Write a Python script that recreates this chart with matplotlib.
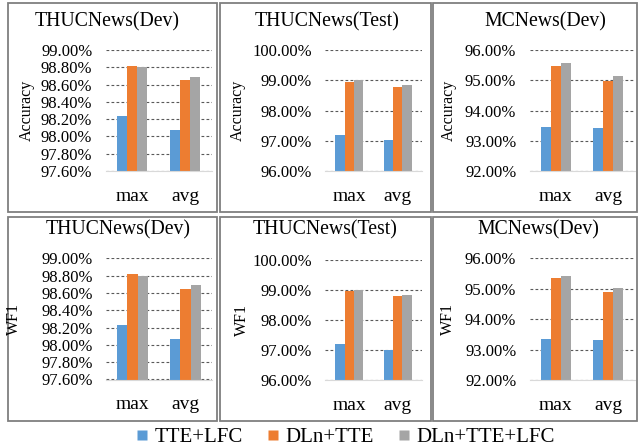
import matplotlib
matplotlib.use("Agg")
import matplotlib.pyplot as plt
import numpy as np
from matplotlib.lines import Line2D
from matplotlib.patches import Rectangle
from matplotlib.ticker import PercentFormatter, MultipleLocator

plt.rcParams['font.family'] = ['Liberation Serif', 'DejaVu Serif']

# ---------------------------------------------------------------------------
# data

groups = ['max', 'avg']
series = ['TTE+LFC', 'DLn+TTE', 'DLn+TTE+LFC']
colors = ['#5B9BD5', '#ED7D31', '#A5A5A5']

acc_thuc_dev = [[98.24, 98.07], [98.82, 98.65], [98.80, 98.69]]
acc_thuc_test = [[97.20, 97.01], [98.93, 98.77], [99.00, 98.84]]
acc_mc_dev = [[93.44, 93.43], [95.46, 94.97], [95.56, 95.13]]
wf1_thuc_dev = [[98.23, 98.07], [98.82, 98.65], [98.80, 98.69]]
wf1_thuc_test = [[97.19, 97.00], [98.97, 98.80], [99.00, 98.84]]
wf1_mc_dev = [[93.35, 93.32], [95.34, 94.90], [95.43, 95.03]]

titles = ['THUCNews(Dev)', 'THUCNews(Test)', 'MCNews(Dev)']
ylabels = ['Accuracy', 'WF1']
# y range and tick step per dataset column
yranges = [(97.6, 99.0, 0.2), (96.0, 100.0, 1.0), (92.0, 96.0, 1.0)]

W, H = 638, 448
fig = plt.figure(figsize=(W / 100, H / 100), dpi=100)


def fbox(x0, x1, y0, y1):
    # pixel box (top-origin) -> figure fraction rect
    return [x0 / W, 1 - y1 / H, (x1 - x0) / W, (y1 - y0) / H]


panel_boxes = [
    [(8, 217, 3, 212), (220, 431, 3, 212), (433, 637, 3, 212)],
    [(8, 217, 217, 421), (220, 431, 217, 421), (433, 637, 217, 421)],
]
axes_boxes = [
    [(105.5, 211.5, 50, 171), (325, 422, 50, 171), (529.5, 634.5, 50, 171)],
    [(106, 212, 258.3, 379.5), (325, 422, 260, 380), (529.5, 634.5, 258.3, 380)],
]
title_pos = [
    [(107.5, 22), (327.5, 22), (545, 22)],
    [(118, 230), (325, 230), (538, 230)],
]
ylabel_x = [[27, 238, 449], [14, 242, 448]]

data = [[acc_thuc_dev, acc_thuc_test, acc_mc_dev],
        [wf1_thuc_dev, wf1_thuc_test, wf1_mc_dev]]

x = np.arange(len(groups))
bw = 0.19

for r in range(2):
    for c in range(3):
        # panel frame
        x0, x1, y0, y1 = panel_boxes[r][c]
        fig.patches.append(Rectangle((x0 / W, 1 - y1 / H), (x1 - x0) / W, (y1 - y0) / H,
                                     transform=fig.transFigure, fill=False,
                                     edgecolor='#7F7F7F', linewidth=1.3))

        ax = fig.add_axes(fbox(*axes_boxes[r][c]))
        vals = data[r][c]
        lo, hi, step = yranges[c]
        for i, s in enumerate(series):
            ax.bar(x + (i - 1) * bw, vals[i], bw, color=colors[i],
                   edgecolor='none', zorder=3)

        ax.set_xlim(-0.5, 1.5)
        ax.set_ylim(lo, hi)
        ax.yaxis.set_major_locator(MultipleLocator(step))
        ax.yaxis.set_major_formatter(PercentFormatter(xmax=100, decimals=2))
        ax.set_xticks(x, groups)
        ax.tick_params(axis='x', length=0, pad=12, labelsize=14)
        ax.tick_params(axis='y', length=0, pad=9.5, labelsize=12)
        ax.grid(axis='y', color='#595959', linestyle=(0, (2.5, 2)), linewidth=0.8, zorder=0)
        for side in ['top', 'right', 'left']:
            ax.spines[side].set_visible(False)
        ax.spines['bottom'].set_color('#D9D9D9')
        ax.spines['bottom'].set_zorder(4)

        tx, ty = title_pos[r][c]
        fig.text(tx / W, 1 - ty / H, titles[c], ha='center', va='center', fontsize=14.2)
        ay0, ay1 = axes_boxes[r][c][2], axes_boxes[r][c][3]
        fig.text(ylabel_x[r][c] / W, 1 - (ay0 + ay1) / 2 / H, ylabels[r],
                 rotation=90, ha='center', va='center', fontsize=11.5)

handles = [Line2D([], [], marker='s', linestyle='none', markersize=7,
                  markerfacecolor=col, markeredgecolor='none') for col in colors]
fig.legend(handles, series, loc='center', bbox_to_anchor=(345 / W, 1 - 437 / H),
           ncol=3, frameon=False, fontsize=15, handlelength=0.6, handletextpad=0.3,
           columnspacing=1.15, borderpad=0)

fig.savefig('out.png', dpi=100)
